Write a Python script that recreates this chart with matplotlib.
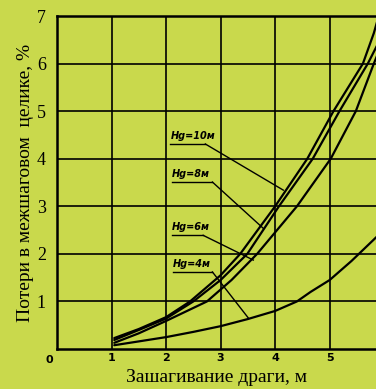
import matplotlib.pyplot as plt

# curves: x = step of the dredge, m; y = losses, %
x_10 = [1.05, 1.5, 2.0, 2.44, 3.0, 3.36, 4.0, 4.59, 5.07, 5.61, 5.81, 5.9]
y_10 = [0.23, 0.42, 0.67, 1.0, 1.55, 2.0, 3.0, 4.0, 5.0, 6.0, 6.64, 7.0]
x_8 = [1.05, 1.5, 2.0, 2.5, 3.0, 3.49, 4.07, 4.69, 5.18, 5.7, 5.9]
y_8 = [0.19, 0.4, 0.64, 1.0, 1.45, 2.0, 3.0, 4.0, 5.0, 6.0, 6.45]
x_6 = [1.05, 1.5, 2.0, 2.75, 3.2, 3.67, 4.4, 5.02, 5.48, 5.81, 5.9]
y_6 = [0.13, 0.33, 0.59, 1.0, 1.45, 2.0, 3.0, 4.0, 5.0, 6.0, 6.25]
x_4 = [1.05, 1.5, 2.0, 2.5, 3.0, 3.5, 4.0, 4.4, 4.65, 5.0, 5.4, 5.9]
y_4 = [0.08, 0.16, 0.25, 0.36, 0.48, 0.63, 0.8, 1.0, 1.2, 1.45, 1.85, 2.4]

labels = ["Hg=10м", "Hg=8м", "Hg=6м", "Hg=4м"]
label_x = [2.08, 2.1, 2.1, 2.12]
underline_y = [4.31, 3.51, 2.39, 1.62]
leader_x0 = [2.72, 2.85, 2.68, 2.85]
leader_end = [(4.15, 3.34), (3.78, 2.54), (3.60, 1.87), (3.51, 0.65)]

x_ticks = [1, 2, 3, 4, 5]
y_ticks = [1, 2, 3, 4, 5, 6, 7]

bg = '#c9d94c'
fig = plt.figure(figsize=(3.76, 3.89), dpi=100, facecolor=bg)
ax = fig.add_axes([0.1516, 0.1028, 0.8484, 0.856])
ax.set_facecolor(bg)

for xs, ys in [(x_10, y_10), (x_8, y_8), (x_6, y_6), (x_4, y_4)]:
    ax.plot(xs, ys, color='black', lw=1.6, solid_capstyle='round')

for txt, lx, uy, x0, (tx, ty) in zip(labels, label_x, underline_y, leader_x0, leader_end):
    ax.text(lx, uy + 0.06, txt, fontsize=7, fontstyle='italic', fontweight='bold',
            ha='left', va='bottom')
    ax.plot([lx, x0], [uy, uy], color='black', lw=1.0)
    ax.plot([x0, tx], [uy, ty], color='black', lw=1.0)

ax.set_xlim(0, 5.85)
ax.set_ylim(0, 7)
ax.set_xticks(x_ticks)
ax.set_yticks(y_ticks)
ax.grid(True, color='black', lw=1.2)
ax.tick_params(length=0)
ax.set_xticklabels([str(v) for v in x_ticks], fontsize=8, fontweight='bold')
ax.set_yticklabels([str(v) for v in y_ticks], fontsize=13, family='Liberation Serif')
ax.tick_params(axis='y', pad=8)
ax.tick_params(axis='x', pad=3)
ax.text(-0.08, -0.12, '0', fontsize=8, fontweight='bold', ha='right', va='top')

for side in ['left', 'bottom', 'top']:
    ax.spines[side].set_linewidth(1.8)
ax.spines['right'].set_visible(False)

ax.set_xlabel('Зашагивание драги, м', fontsize=14, family='Liberation Serif', labelpad=4)
ax.set_ylabel('Потери в межшаговом  целике, %', fontsize=14, family='Liberation Serif', labelpad=2)

plt.savefig('out.png', dpi=100, facecolor=bg)
